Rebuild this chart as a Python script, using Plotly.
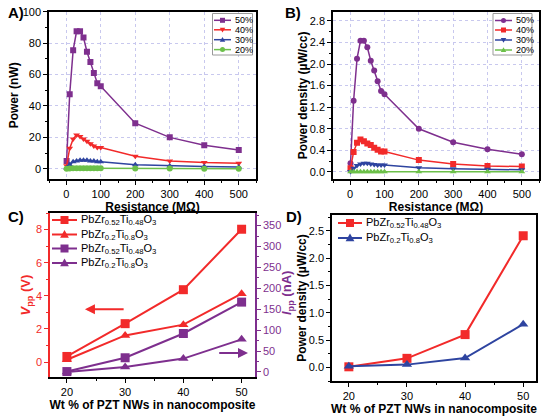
import plotly.graph_objects as go

# --- data ---
res = [1, 10, 20, 30, 40, 50, 60, 70, 80, 90, 100, 200, 300, 400, 500]

pow_50 = [5, 47.5, 75.5, 87.5, 87.5, 83.5, 74.5, 68, 61, 54.5, 52.5, 29, 20, 15, 12]
pow_40 = [2, 13, 19, 21.5, 20.5, 19, 17.5, 16, 14.5, 13.5, 13.5, 8, 5, 4, 3.5]
pow_30 = [0.5, 2.5, 4.5, 5, 5.5, 5.5, 5.5, 5, 5, 4.5, 4.5, 2.5, 1.8, 1.5, 1.2]
pow_20 = [0.1, 0.2, 0.3, 0.3, 0.3, 0.3, 0.3, 0.3, 0.3, 0.3, 0.3, 0.2, 0.15, 0.1, 0.1]

pd_50 = [0.16, 1.32, 2.1, 2.43, 2.43, 2.31, 2.06, 1.88, 1.68, 1.5, 1.44, 0.8, 0.55, 0.42, 0.33]
pd_40 = [0.07, 0.37, 0.54, 0.6, 0.57, 0.53, 0.5, 0.45, 0.41, 0.38, 0.38, 0.22, 0.15, 0.11, 0.1]
pd_30 = [0.01, 0.07, 0.12, 0.15, 0.16, 0.16, 0.15, 0.14, 0.13, 0.13, 0.13, 0.08, 0.06, 0.05, 0.04]
pd_20 = [0.005] * 15

wt = [20, 30, 40, 50]
vpp_052 = [0.34, 2.32, 4.37, 8.02]
vpp_02 = [0.14, 1.61, 2.26, 4.13]
ipp_052 = [1, 34, 92, 167]
ipp_02 = [0, 12, 32, 78]

pdens_052 = [0.01, 0.165, 0.60, 2.41]
pdens_02 = [0.02, 0.05, 0.17, 0.79]

PZT_052 = "PbZr<sub>0.52</sub>Ti<sub>0.48</sub>O<sub>3</sub>"
PZT_02 = "PbZr<sub>0.2</sub>Ti<sub>0.8</sub>O<sub>3</sub>"

PURPLE = "#7E2F8E"
RED = "#F22A2A"
BLUE = "#2E44A0"
GREEN = "#6CC04A"
GRID = "#C8C8EE"
FONT = "Liberation Sans"

W, H = 550, 416

fig = go.Figure()

def line(x, y, name, color, symbol, xa, ya, size=6, width=1.5):
    fig.add_trace(go.Scatter(
        x=x, y=y, name=name, mode="lines+markers", showlegend=False,
        line=dict(color=color, width=width),
        marker=dict(color=color, symbol=symbol, size=size),
        xaxis=xa, yaxis=ya,
    ))

# A)
line(res, pow_50, "50%", PURPLE, "square", "x", "y")
line(res, pow_40, "40%", RED, "triangle-down", "x", "y")
line(res, pow_30, "30%", BLUE, "triangle-up", "x", "y")
line(res, pow_20, "20%", GREEN, "circle", "x", "y")

# B)
line(res, pd_50, "50%", PURPLE, "circle", "x2", "y2")
line(res, pd_40, "40%", RED, "square", "x2", "y2")
line(res, pd_30, "30%", BLUE, "triangle-down", "x2", "y2")
line(res, pd_20, "20%", GREEN, "triangle-up", "x2", "y2")

# C)
line(wt, vpp_052, PZT_052, RED, "square", "x3", "y3", size=9, width=2)
line(wt, vpp_02, PZT_02, RED, "triangle-up", "x3", "y3", size=9, width=2)
line(wt, ipp_052, PZT_052, PURPLE, "square", "x3", "y5", size=9, width=2)
line(wt, ipp_02, PZT_02, PURPLE, "triangle-up", "x3", "y5", size=9, width=2)

# D)
line(wt, pdens_052, PZT_052, RED, "square", "x4", "y4", size=9, width=2)
line(wt, pdens_02, PZT_02, BLUE, "triangle-up", "x4", "y4", size=9, width=2)


def xd(a, b):
    return [a / W, b / W]

def yd(top, bottom):
    return [1 - bottom / H, 1 - top / H]

tickfont = dict(family=FONT, size=11, color="black")
titlefont = dict(family=FONT, size=12, color="black", weight="bold")

def ax(color="black", **kw):
    d = dict(showline=True, linecolor=color, linewidth=1.5, mirror=True,
             ticks="outside", ticklen=4, tickcolor=color, tickwidth=1,
             tickfont=dict(tickfont, color=color), zeroline=False,
             showgrid=False, automargin=False)
    d.update(kw)
    return d

grid = dict(showgrid=True, gridcolor=GRID, griddash="dot", gridwidth=1)

fig.update_layout(
    template="none",
    width=W, height=H, margin=dict(l=0, r=0, t=0, b=0),
    plot_bgcolor="white", paper_bgcolor="white",
    font=dict(family=FONT, size=11),
    showlegend=False,
    xaxis=ax(domain=xd(49, 256), anchor="y", range=[-50, 550],
             tickvals=[0, 100, 200, 300, 400, 500],
             minor=dict(dtick=50, ticks="outside", ticklen=2, tickcolor="black"),
             title=dict(text="Resistance (MΩ)", font=titlefont, standoff=2), **grid),
    yaxis=ax(domain=yd(11.7, 179), anchor="x", range=[-6.5, 100], dtick=20,
             minor=dict(dtick=10, ticks="outside", ticklen=2, tickcolor="black"),
             title=dict(text="Power (nW)", font=titlefont, standoff=1), **grid),
    xaxis2=ax(domain=xd(333, 539), anchor="y2", range=[-50, 550],
              tickvals=[0, 100, 200, 300, 400, 500],
              minor=dict(dtick=50, ticks="outside", ticklen=2, tickcolor="black"),
              title=dict(text="Resistance (MΩ)", font=titlefont, standoff=2), **grid),
    yaxis2=ax(domain=yd(11.7, 179), anchor="x2", range=[-0.13, 2.97], dtick=0.4,
              tickformat=".1f",
              minor=dict(dtick=0.2, ticks="outside", ticklen=2, tickcolor="black"),
              title=dict(text="Power density (µW/cc)", font=titlefont, standoff=0), **grid),
    xaxis3=ax(domain=xd(50, 255), anchor="y3", range=[17.1, 52.3], dtick=10,
              minor=dict(dtick=5, ticks="outside", ticklen=2, tickcolor="black"),
              title=dict(text="Wt % of PZT NWs in nanocomposite", font=titlefont, standoff=2)),
    yaxis3=ax(color=RED, domain=yd(213, 377), anchor="x3", range=[-0.9, 9], dtick=2,
              mirror=False,
              minor=dict(dtick=1, ticks="outside", ticklen=2, tickcolor=RED),
              title=dict(text="<i>V</i><sub>pp</sub> (V)",
                         font=dict(titlefont, color=RED, size=13), standoff=2)),
    yaxis5=ax(color=PURPLE, overlaying="y3", anchor="x3", side="right",
              range=[-12, 380], dtick=50, mirror=False,
              minor=dict(dtick=25, ticks="outside", ticklen=2, tickcolor=PURPLE)),
    xaxis4=ax(domain=xd(332, 536), anchor="y4", range=[17.1, 52.2], dtick=10,
              minor=dict(dtick=5, ticks="outside", ticklen=2, tickcolor="black"),
              title=dict(text="Wt % of PZT NWs in nanocomposite", font=titlefont, standoff=2)),
    yaxis4=ax(domain=yd(215, 381), anchor="x4", range=[-0.25, 2.79], dtick=0.5,
              tickformat=".1f",
              minor=dict(dtick=0.25, ticks="outside", ticklen=2, tickcolor="black"),
              title=dict(text="Power density (µW/cc)", font=titlefont, standoff=0)),
)

# right-hand title of C placed by hand (the overlaid axis puts it on its labels)
fig.add_annotation(text="<i>I</i><sub>pp</sub> (nA)", x=287 / W, y=1 - 293 / H,
                   xref="paper", yref="paper", textangle=-90, showarrow=False,
                   xanchor="center", yanchor="middle",
                   font=dict(family=FONT, size=13, color=PURPLE, weight="bold"))


# compact legends drawn in pixel positions (plotly's legend rows are too tall)
def P(x, y):
    return x / W, 1 - y / H

def legend_marker(symbol, cx, cy, s, color):
    h = s / 2
    if symbol == "square":
        x0, y0 = P(cx - h, cy + h)
        x1, y1 = P(cx + h, cy - h)
        fig.add_shape(type="rect", xref="paper", yref="paper", x0=x0, y0=y0,
                      x1=x1, y1=y1, fillcolor=color, line=dict(width=0))
    elif symbol == "circle":
        x0, y0 = P(cx - h, cy + h)
        x1, y1 = P(cx + h, cy - h)
        fig.add_shape(type="circle", xref="paper", yref="paper", x0=x0, y0=y0,
                      x1=x1, y1=y1, fillcolor=color, line=dict(width=0))
    else:
        if symbol == "triangle-up":
            pts = [(cx, cy - h * 1.1), (cx + h * 1.1, cy + h * 0.8), (cx - h * 1.1, cy + h * 0.8)]
        else:
            pts = [(cx, cy + h * 1.1), (cx + h * 1.1, cy - h * 0.8), (cx - h * 1.1, cy - h * 0.8)]
        pp = [P(a, b) for a, b in pts]
        path = "M {} {} L {} {} L {} {} Z".format(pp[0][0], pp[0][1], pp[1][0], pp[1][1],
                                                  pp[2][0], pp[2][1])
        fig.add_shape(type="path", xref="paper", yref="paper", path=path,
                      fillcolor=color, line=dict(width=0))

def legend(entries, x0, x1, ys, msize, lw, fsize, box=None):
    if box:
        bx0, by0 = P(box[0], box[3])
        bx1, by1 = P(box[2], box[1])
        fig.add_shape(type="rect", xref="paper", yref="paper", x0=bx0, y0=by0,
                      x1=bx1, y1=by1, fillcolor="white", line=dict(color="#9a9a9a", width=1))
    for (label, color, symbol), y in zip(entries, ys):
        a0, yy = P(x0, y)
        a1, _ = P(x1, y)
        fig.add_shape(type="line", xref="paper", yref="paper", x0=a0, y0=yy, x1=a1, y1=yy,
                      line=dict(color=color, width=lw))
        legend_marker(symbol, (x0 + x1) / 2, y, msize, color)
        fig.add_annotation(text=label, x=a1 + 2 / W, y=yy, xref="paper", yref="paper",
                           xanchor="left", yanchor="middle", showarrow=False,
                           font=dict(family=FONT, size=fsize, color="black"))

legend([("50%", PURPLE, "square"), ("40%", RED, "triangle-down"),
        ("30%", BLUE, "triangle-up"), ("20%", GREEN, "circle")],
       214, 231, [20.3, 29.8, 39.7, 49.6], 5, 1.5, 9, box=(212.5, 13.5, 252.5, 55))
legend([("50%", PURPLE, "circle"), ("40%", RED, "square"),
        ("30%", BLUE, "triangle-down"), ("20%", GREEN, "triangle-up")],
       495, 512, [20.5, 30, 40, 50], 5, 1.5, 9, box=(493, 13.5, 532, 55))
legend([(PZT_052, RED, "square"), (PZT_02, RED, "triangle-up"),
        (PZT_052, PURPLE, "square"), (PZT_02, PURPLE, "triangle-up")],
       52, 77, [220, 234.5, 248.5, 263], 8, 2, 11)
legend([(PZT_052, RED, "square"), (PZT_02, BLUE, "triangle-up")],
       338, 362, [223, 238], 8, 2, 11)

# panel labels
for txt, px, py in [("A)", 6, 12), ("B)", 283, 12), ("C)", 6, 216), ("D)", 284, 216)]:
    fig.add_annotation(text=txt, x=px / W, y=1 - py / H, xref="paper", yref="paper",
                       xanchor="left", yanchor="middle", showarrow=False,
                       font=dict(family=FONT, size=15, color="black", weight="bold"))

# direction arrows in C
fig.add_annotation(x=23.1, y=3.19, ax=30.0, ay=3.19, xref="x3", yref="y3",
                   axref="x3", ayref="y3", text="", showarrow=True,
                   arrowhead=2, arrowsize=1, arrowwidth=2, arrowcolor=RED)
fig.add_annotation(x=51.1, y=45.6, ax=45.9, ay=45.6, xref="x3", yref="y5",
                   axref="x3", ayref="y5", text="", showarrow=True,
                   arrowhead=2, arrowsize=1, arrowwidth=2, arrowcolor=PURPLE)

# the page body has a default 8px margin; drop it so the figure sits at 0,0
fig.write_html("out.html", config={"displayModeBar": False},
               post_script="document.body.style.margin='0';")
